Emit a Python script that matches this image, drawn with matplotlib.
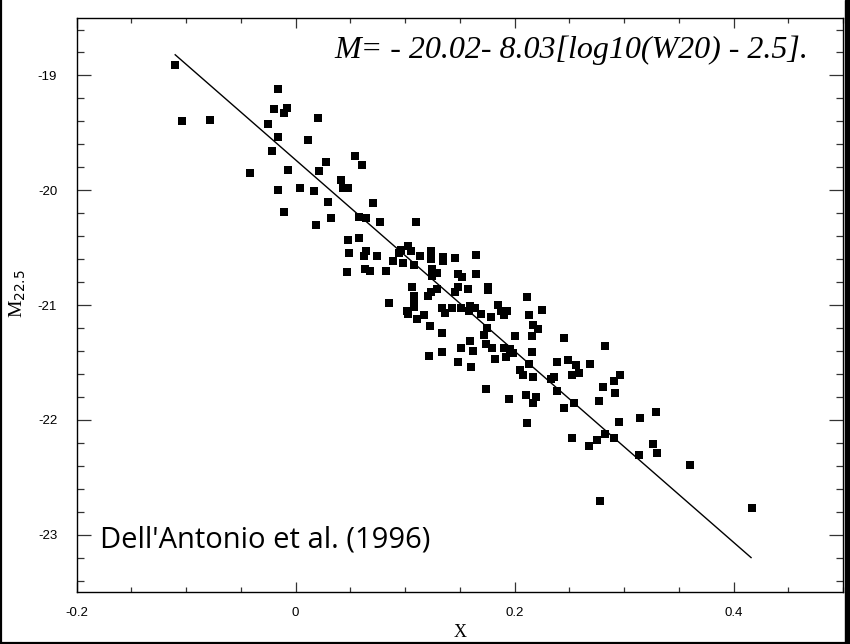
import matplotlib
matplotlib.use("Agg")
import matplotlib.pyplot as plt
from matplotlib.ticker import MultipleLocator
from matplotlib.lines import Line2D
from matplotlib.patches import Rectangle

# X = log10(W20) - 2.5, M = absolute magnitude M_22.5
x_pts = [
    -0.110, -0.104, -0.078, -0.042, -0.016, -0.020, -0.011, -0.008, -0.025, -0.016,
    -0.022, -0.007, -0.016, -0.011,
    0.020, 0.011, 0.054, 0.028, 0.061, 0.021,
    0.041, 0.043, 0.048, 0.004, 0.017, 0.030, 0.071, 0.032, 0.058, 0.064,
    0.077, 0.019, 0.048, 0.058, 0.049, 0.062, 0.064, 0.074, 0.089, 0.047,
    0.063, 0.068, 0.083, 0.094, 0.085,
    0.110, 0.096, 0.103, 0.105, 0.098, 0.108, 0.114, 0.124, 0.124, 0.135,
    0.135, 0.146, 0.165, 0.125, 0.129, 0.125, 0.148, 0.152, 0.165, 0.106,
    0.108, 0.108, 0.108, 0.102, 0.103, 0.121, 0.124, 0.129, 0.148, 0.146,
    0.157, 0.176, 0.176, 0.211, 0.111, 0.117, 0.123, 0.134, 0.136, 0.143,
    0.151, 0.159, 0.158, 0.164, 0.169, 0.178, 0.185, 0.188, 0.190, 0.193,
    0.213, 0.225, 0.175, 0.172, 0.217, 0.221, 0.134, 0.200, 0.216, 0.245,
    0.159, 0.174, 0.179, 0.151, 0.162, 0.190, 0.196, 0.199, 0.192, 0.182,
    0.216, 0.283, 0.122, 0.134, 0.148, 0.160, 0.213, 0.239, 0.249, 0.256,
    0.269, 0.259, 0.252, 0.205, 0.208, 0.217, 0.233, 0.236, 0.296, 0.291,
    0.281, 0.292, 0.277, 0.239, 0.254, 0.245, 0.174, 0.195, 0.210, 0.217,
    0.220, 0.211, 0.295, 0.315, 0.329, 0.252, 0.268, 0.275, 0.283, 0.291,
    0.314, 0.326, 0.330, 0.360, 0.278, 0.417,
]
m_pts = [
    -18.91, -19.40, -19.39, -19.85, -19.12, -19.29, -19.33, -19.28, -19.42, -19.54,
    -19.66, -19.82, -20.00, -20.19,
    -19.37, -19.56, -19.70, -19.75, -19.78, -19.83,
    -19.91, -19.98, -19.98, -19.98, -20.01, -20.10, -20.11, -20.24, -20.23, -20.24,
    -20.28, -20.30, -20.43, -20.42, -20.55, -20.57, -20.53, -20.57, -20.62, -20.71,
    -20.69, -20.70, -20.70, -20.55, -20.98,
    -20.28, -20.52, -20.49, -20.53, -20.63, -20.65, -20.57, -20.53, -20.60, -20.58,
    -20.62, -20.59, -20.56, -20.69, -20.72, -20.75, -20.73, -20.76, -20.73, -20.84,
    -20.92, -20.97, -21.02, -21.05, -21.08, -20.92, -20.89, -20.86, -20.84, -20.89,
    -20.86, -20.84, -20.87, -20.93, -21.12, -21.09, -21.18, -21.03, -21.07, -21.03,
    -21.03, -21.01, -21.05, -21.03, -21.08, -21.10, -21.00, -21.05, -21.09, -21.05,
    -21.09, -21.04, -21.20, -21.26, -21.17, -21.21, -21.24, -21.27, -21.27, -21.29,
    -21.31, -21.34, -21.37, -21.37, -21.40, -21.37, -21.38, -21.42, -21.45, -21.47,
    -21.41, -21.36, -21.44, -21.41, -21.50, -21.54, -21.51, -21.50, -21.48, -21.52,
    -21.51, -21.59, -21.61, -21.57, -21.61, -21.63, -21.64, -21.63, -21.61, -21.66,
    -21.71, -21.77, -21.84, -21.75, -21.85, -21.90, -21.73, -21.82, -21.78, -21.85,
    -21.80, -22.03, -22.02, -21.98, -21.93, -22.16, -22.23, -22.18, -22.12, -22.16,
    -22.31, -22.21, -22.29, -22.39, -22.71, -22.77,
]

# fitted relation, drawn between its two end points
x_fit = [-0.110, 0.416]
m_fit = [-18.82, -23.20]

equation = "M= - 20.02- 8.03[log10(W20) - 2.5]."
source = "Dell'Antonio et al. (1996)"

fig = plt.figure(figsize=(8.5, 6.44), dpi=100)
ax = fig.add_axes([0.0902, 0.0807, 0.9016, 0.8913])

ax.plot(x_pts, m_pts, linestyle="none", marker="s", markersize=5.2,
        color="black", markeredgewidth=0)
ax.plot(x_fit, m_fit, color="black", linewidth=1.0)

ax.set_xlim(-0.2, 0.5)
ax.set_ylim(-23.5, -18.5)
ax.xaxis.set_major_locator(MultipleLocator(0.2))
ax.xaxis.set_minor_locator(MultipleLocator(0.05))
ax.yaxis.set_major_locator(MultipleLocator(1))
ax.yaxis.set_minor_locator(MultipleLocator(0.2))
ax.xaxis.set_major_formatter(plt.FuncFormatter(lambda v, p: f"{v:g}"))
ax.yaxis.set_major_formatter(plt.FuncFormatter(lambda v, p: f"{v:g}"))

ax.tick_params(axis="both", which="both", direction="in", top=True, right=True,
               width=0.9, color="#333333", labelsize=9.5)
ax.tick_params(axis="x", which="major", length=7.5, pad=11)
ax.tick_params(axis="x", which="minor", length=3.7)
ax.tick_params(axis="y", which="major", length=9.8, pad=14)
ax.tick_params(axis="y", which="minor", length=5)
for lbl in ax.get_xticklabels() + ax.get_yticklabels():
    lbl.set_family(["Liberation Sans", "DejaVu Sans"])
for sp in ax.spines.values():
    sp.set_linewidth(1.0)

plt.rcParams["mathtext.fontset"] = "stix"
ax.set_ylabel(r"M$_{\mathsf{22.5}}$", family="Liberation Serif", fontsize=14)
ax.yaxis.set_label_coords(-0.063, 0.52)
ax.set_xlabel("X", family="Liberation Serif", fontsize=13)
ax.xaxis.set_label_coords(0.5, -0.055)

fig.text(0.951, 0.91, equation, ha="right", va="baseline",
         family="Liberation Serif", style="italic", fontsize=23)
fig.text(0.1176, 0.1506, source, ha="left", va="baseline",
         family="Open Sans", fontsize=21)

# frame around the picture: left and bottom lines, thick bar on the right
fig.add_artist(Line2D([0.0012, 0.0012], [0, 1], transform=fig.transFigure,
                      color="black", linewidth=1.6))
fig.add_artist(Line2D([0, 1], [0.0016, 0.0016], transform=fig.transFigure,
                      color="black", linewidth=1.6))
fig.add_artist(Rectangle((0.9941, 0), 0.0059, 1, transform=fig.transFigure,
                         color="black"))

fig.savefig("out.png", dpi=100)
